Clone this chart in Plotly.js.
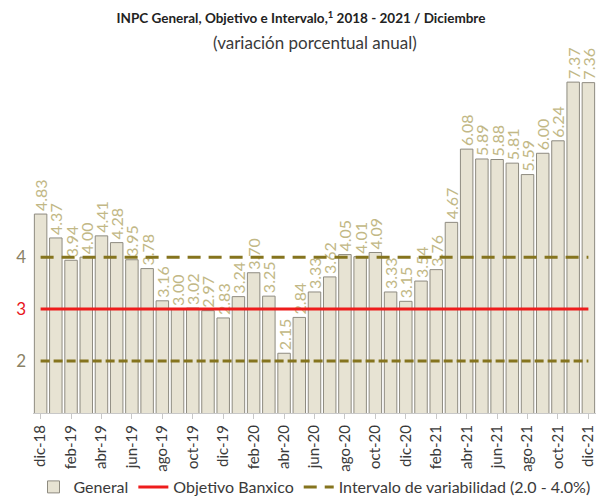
<!DOCTYPE html>
<html>
<head>
<meta charset="utf-8">
<script src="https://cdn.plot.ly/plotly-3.0.1.min.js"></script>
<style>html,body{margin:0;padding:0;background:#fff;}#chart{width:602px;height:504px;}</style>
</head>
<body>
<div id="chart"></div>
<script>
const months = ["dic-18","ene-19","feb-19","mar-19","abr-19","may-19","jun-19","jul-19","ago-19","sep-19","oct-19","nov-19","dic-19",
"ene-20","feb-20","mar-20","abr-20","may-20","jun-20","jul-20","ago-20","sep-20","oct-20","nov-20","dic-20",
"ene-21","feb-21","mar-21","abr-21","may-21","jun-21","jul-21","ago-21","sep-21","oct-21","nov-21","dic-21"];
const general = [4.83,4.37,3.94,4.00,4.41,4.28,3.95,3.78,3.16,3.00,3.02,2.97,2.83,
3.24,3.70,3.25,2.15,2.84,3.33,3.62,4.05,4.01,4.09,3.33,3.15,
3.54,3.76,4.67,6.08,5.89,5.88,5.81,5.59,6.00,6.24,7.37,7.36];
const objetivo = months.map(() => 3);
const intervaloSup = months.map(() => 4);
const intervaloInf = months.map(() => 2);
const tickMonths = months.filter((m, i) => i % 2 === 0);
const yTicks = [2, 3, 4];

const font = "Lato, 'Open Sans', sans-serif";
const olive = "#85741e";

const traces = [
  {
    type: "bar", name: "General", x: months, y: general,
    marker: {color: "#e7e3d3", line: {color: "#8e8b80", width: 1}},
    text: general.map(v => v.toFixed(2)), textposition: "outside",
    textangle: -90, cliponaxis: false, constraintext: "none",
    textfont: {family: font, size: 16, color: "#c2b886"},
    hoverinfo: "x+y"
  },
  {
    type: "scatter", mode: "lines", name: "Objetivo Banxico", x: months, y: objetivo,
    line: {color: "#ee1c1c", width: 3}
  },
  {
    type: "scatter", mode: "lines", name: "Intervalo de variabilidad (2.0 - 4.0%)", x: months, y: intervaloSup,
    line: {color: olive, width: 3, dash: "13px,8px"}, legendgroup: "int"
  },
  {
    type: "scatter", mode: "lines", name: "Intervalo inf", x: months, y: intervaloInf,
    line: {color: olive, width: 3, dash: "9px,4px"}, legendgroup: "int", showlegend: false
  }
];

const layout = {
  width: 602, height: 504,
  margin: {l: 33, r: 6, t: 39, b: 91},
  paper_bgcolor: "#fff", plot_bgcolor: "#fff",
  font: {family: font, color: "#333"},
  title: {
    text: "<b>INPC General, Objetivo e Intervalo,<sup>1</sup> 2018 - 2021 / Diciembre</b>",
    font: {family: font, size: 13.5, color: "#222"},
    x: 0.5, xanchor: "center", yref: "container", y: 0.963, yanchor: "middle"
  },
  annotations: [{
    text: "(variación porcentual anual)", xref: "paper", yref: "paper",
    x: 0.5, y: 0.99, xanchor: "center", yanchor: "middle", showarrow: false,
    font: {family: font, size: 17, color: "#3a3a3a"}
  }],
  bargap: 0.18,
  showlegend: true,
  legend: {
    orientation: "h", x: 0.5, xanchor: "center", y: 0.0, yref: "container", yanchor: "bottom",
    bgcolor: "rgba(0,0,0,0)",
    font: {family: font, size: 16, color: "#3a3a3a"}, traceorder: "normal",
    itemwidth: 30, tracegroupgap: 0
  },
  xaxis: {
    type: "category", tickmode: "array", tickvals: tickMonths, ticktext: tickMonths,
    tickangle: -90, tickfont: {family: font, size: 15, color: "#3a3a3a"},
    showgrid: false, showline: true, linecolor: "#c8c8c8", linewidth: 1,
    ticks: "outside", ticklen: 5, tickcolor: "#c8c8c8", fixedrange: true
  },
  yaxis: {
    range: [1, 8.2], tickmode: "array", tickvals: yTicks,
    ticktext: ["2", "<span style='color:#e8141c'>3</span>", "4"],
    tickfont: {family: font, size: 17, color: "#8a8266"},
    showgrid: false, zeroline: false, showline: false, ticks: "", ticklabelstandoff: 6
  }
};

Plotly.newPlot("chart", traces, layout, {displayModeBar: false, staticPlot: true});
</script>
</body>
</html>
